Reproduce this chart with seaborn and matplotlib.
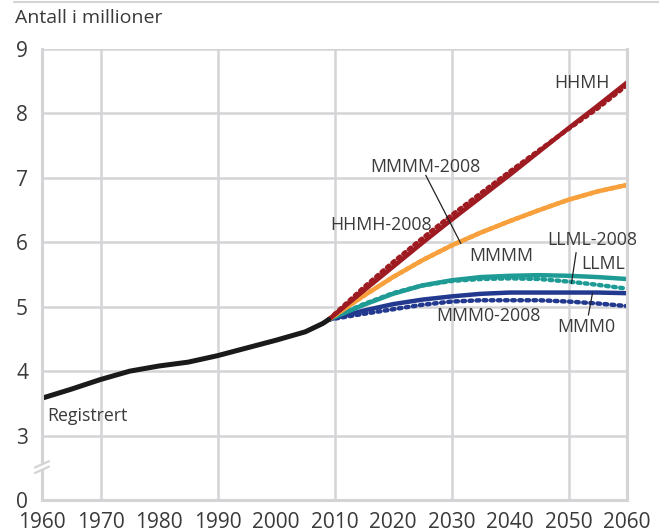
import numpy as np
import pandas as pd
import matplotlib.pyplot as plt
import seaborn as sns

# Registered population (millions)
reg_years = [1960, 1965, 1970, 1975, 1980, 1985, 1990, 1995, 2000, 2005, 2008, 2009]
reg_values = [3.58, 3.72, 3.87, 4.00, 4.08, 4.14, 4.24, 4.36, 4.48, 4.61, 4.74, 4.80]

# Projections (millions)
proj_years = [2009, 2015, 2020, 2025, 2030, 2035, 2040, 2045, 2050, 2055, 2060]
hhmh = [4.80, 5.25, 5.62, 5.99, 6.35, 6.70, 7.05, 7.41, 7.77, 8.12, 8.48]
hhmh_2008 = [4.80, 5.30, 5.69, 6.06, 6.42, 6.76, 7.10, 7.43, 7.76, 8.08, 8.44]
mmmm = [4.80, 5.17, 5.46, 5.72, 5.95, 6.15, 6.33, 6.50, 6.66, 6.79, 6.89]
mmmm_2008 = [4.80, 5.17, 5.46, 5.72, 5.95, 6.15, 6.33, 6.50, 6.66, 6.79, 6.89]
llml = [4.80, 5.03, 5.20, 5.33, 5.41, 5.46, 5.48, 5.49, 5.48, 5.46, 5.43]
llml_2008 = [4.80, 5.04, 5.21, 5.33, 5.40, 5.43, 5.44, 5.43, 5.39, 5.34, 5.28]
mmm0 = [4.80, 4.94, 5.04, 5.11, 5.16, 5.20, 5.22, 5.22, 5.22, 5.22, 5.21]
mmm0_2008 = [4.80, 4.89, 4.96, 5.03, 5.08, 5.10, 5.10, 5.10, 5.08, 5.05, 5.01]

RED = '#9e1b22'
ORANGE = '#f7a03c'
TEAL = '#1f9b96'
BLUE = '#22398f'
GRID = '#d4d4d6'
TEXT = '#3a3a3a'

sns.set_style('white')
plt.rcParams['font.family'] = ['Open Sans', 'DejaVu Sans']

fig = plt.figure(figsize=(6.59, 5.32), dpi=100)
ax = fig.add_axes([42 / 659, 1 - 500 / 532, (627 - 42) / 659, (500 - 49) / 532])

# grid
for y in range(3, 10):
    ax.axhline(y, color=GRID, lw=1.8, zorder=0)
for x in [1970, 1990, 2010, 2030, 2050]:
    ax.axvline(x, color=GRID, lw=1.8, zorder=0)

dotted = (0, (0.6, 1.0))
series = [
    (mmm0_2008, BLUE, dotted), (mmm0, BLUE, '-'),
    (llml_2008, TEAL, dotted), (llml, TEAL, '-'),
    (mmmm_2008, ORANGE, dotted), (mmmm, ORANGE, '-'),
    (hhmh_2008, RED, dotted), (hhmh, RED, '-'),
]
for vals, col, ls in series:
    sns.lineplot(x=proj_years, y=vals, ax=ax, color=col, lw=3.2,
                 linestyle=ls, solid_capstyle='round', dash_capstyle='round')
sns.lineplot(x=reg_years, y=reg_values, ax=ax, color='#1a1a1a', lw=3.6,
             solid_capstyle='round')

ax.set_xlim(1960, 2060)
ax.set_ylim(2, 9)
ax.set_xticks(range(1960, 2061, 10))
ax.set_xticks(range(1965, 2061, 10), minor=True)
ax.set_yticks(range(2, 10))
ax.set_yticklabels(['0', '3', '4', '5', '6', '7', '8', '9'])
ax.tick_params(axis='x', which='both', direction='in', length=7, width=1.8,
               color=GRID, labelsize=15, labelcolor=TEXT, pad=9)
ax.tick_params(axis='y', length=0, labelsize=15, labelcolor=TEXT, pad=10)
ax.set_xlabel('')
ax.set_ylabel('')
# lift the "0" label a little so it clears "1960"
ax.get_yticklabels()[0].set_y(2.05)

for side in ['left', 'bottom', 'right']:
    ax.spines[side].set_color(GRID)
    ax.spines[side].set_linewidth(2.2)
ax.spines['top'].set_visible(False)

# axis break marks
ax.plot([-0.006, 0.006], [0.068, 0.078], transform=ax.transAxes,
        color='white', lw=4, clip_on=False, zorder=5)
for dy in [0.0, 0.012]:
    ax.plot([-0.012, 0.012], [0.060 + dy, 0.074 + dy], transform=ax.transAxes,
            color=GRID, lw=1.6, clip_on=False, zorder=6)

# labels
fs = 12.8
ax.text(2047.5, 8.48, 'HHMH', fontsize=fs, color=TEXT, va='center')
ax.text(2016.1, 7.17, 'MMMM-2008', fontsize=fs, color=TEXT, va='center')
ax.plot([2025.6, 2031.6], [7.04, 5.98], color='#222222', lw=0.9)
ax.text(2009.2, 6.27, 'HHMH-2008', fontsize=fs, color=TEXT, va='center')
ax.text(2033.0, 5.78, 'MMMM', fontsize=fs, color=TEXT, va='center')
ax.text(2046.3, 6.03, 'LLML-2008', fontsize=fs, color=TEXT, va='center')
ax.plot([2051.3, 2050.5], [5.84, 5.36], color='#222222', lw=0.9)
ax.text(2052.1, 5.66, 'LLML', fontsize=fs, color=TEXT, va='center')
ax.text(2027.4, 4.86, 'MMM0-2008', fontsize=fs, color=TEXT, va='center')
ax.text(2048.0, 4.69, 'MMM0', fontsize=fs, color=TEXT, va='center')
ax.plot([2053.4, 2054.1], [4.87, 5.21], color='#222222', lw=0.9)
ax.text(1960.9, 3.31, 'Registrert', fontsize=fs, color=TEXT, va='center')

fig.text(15 / 659, 1 - 18 / 532, 'Antall i millioner', fontsize=14,
         color=TEXT, va='center', ha='left')
fig.add_artist(plt.Line2D([14 / 659, 1], [0.997, 0.997], color=GRID, lw=1.5))

fig.savefig('out.png', dpi=100)
